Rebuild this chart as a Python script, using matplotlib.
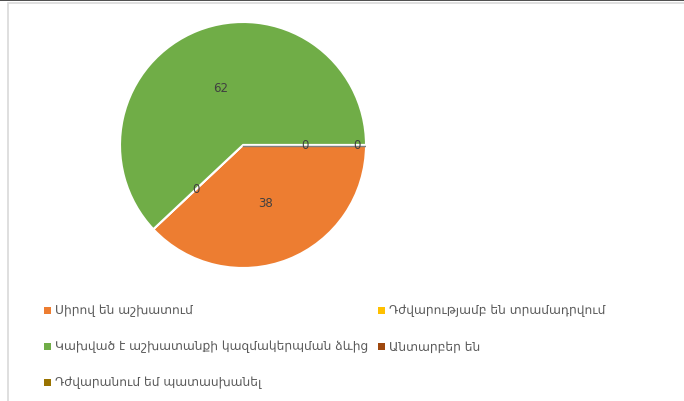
import numpy as np
import matplotlib
matplotlib.use('Agg')
import matplotlib.pyplot as plt
from matplotlib.patches import Rectangle

# data
labels = ['Սիրով են աշխատում',
          'Դժվարությամբ են տրամադրվում',
          'Կախված է աշխատանքի կազմակերպման ձևից',
          'Անտարբեր են',
          'Դժվարանում եմ պատասխանել']
values = [38, 0, 62, 0, 0]
colors = ['#ED7D31', '#FFC000', '#70AD47', '#9E480E', '#997300']
# radial position of each data label (fraction of radius)
label_r = [0.5, 0.52, 0.5, 0.5, 0.93]

W, H = 684, 402
fig = plt.figure(figsize=(W / 100, H / 100), dpi=100)

# frame lines like the original screenshot
fig.patches.append(Rectangle((0, 1 - 2 / H), 1, 2 / H, transform=fig.transFigure,
                             color='#505050', lw=0))
fig.patches.append(Rectangle((8 / W, -0.01), 1, 1 - 4 / H + 0.01, transform=fig.transFigure,
                             fill=False, edgecolor='#d9d9d9', lw=1.2))

cx, cy, R = 243, 146, 123
ax = fig.add_axes([(cx - R) / W, 1 - (cy + R) / H, 2 * R / W, 2 * R / H])
wedges, _ = ax.pie(values, colors=colors, startangle=0, counterclock=False,
                   radius=1, wedgeprops=dict(edgecolor='white', linewidth=1.5))
for w in wedges:
    w.set_zorder(1)
ax.plot([0, 1], [-0.008, -0.008], color='#7f7f7f', lw=1.0, zorder=1.5)
ax.set_xlim(-1, 1)
ax.set_ylim(-1, 1)
ax.set_aspect('equal')
ax.axis('off')

# data labels at the middle angle of each slice
total = sum(values)
start = 0.0
for v, r in zip(values, label_r):
    frac = v / total * 360
    mid = np.radians(start - frac / 2)
    ax.text(r * np.cos(mid), r * np.sin(mid), str(v), ha='center', va='center',
            fontsize=8.5, color='#404040', zorder=3)
    start -= frac

# legend, filled row by row in two columns
col_x = [44, 378]
row_y = [311, 347, 383]
for i, (lab, c) in enumerate(zip(labels, colors)):
    x = col_x[i % 2]
    y = row_y[i // 2]
    fig.patches.append(Rectangle((x / W, 1 - (y + 3.5) / H), 7 / W, 7 / H,
                                 transform=fig.transFigure, color=c, lw=0))
    fig.text((x + 11) / W, 1 - y / H, lab, ha='left', va='center',
             fontsize=8.8, color='#595959')

fig.savefig('out.png', dpi=100)
